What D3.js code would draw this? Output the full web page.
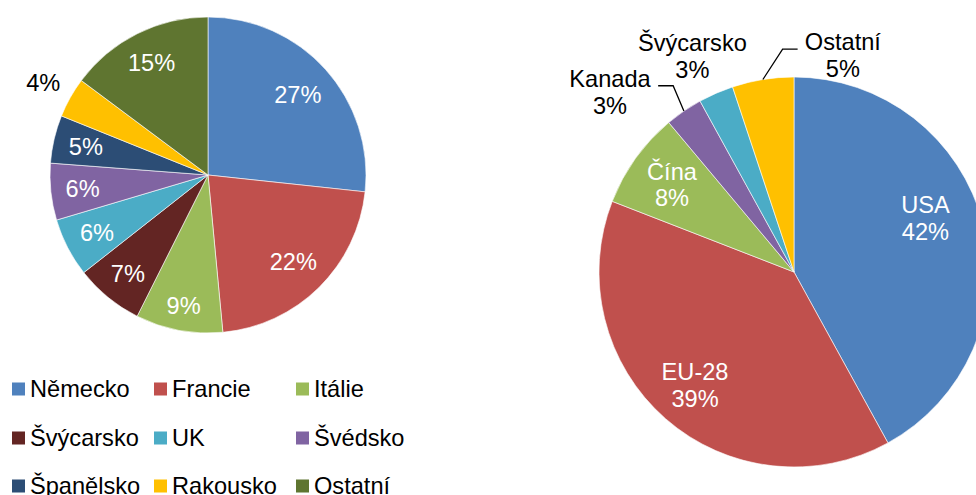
<!DOCTYPE html>
<html>
<head>
<meta charset="utf-8">
<style>
  body { margin: 0; background: #fff; }
  svg { display: block; font-family: "Liberation Sans", Arial, sans-serif; }
</style>
</head>
<body>
<svg id="chart" width="976" height="495"></svg>
<script src="https://cdn.jsdelivr.net/npm/d3@7/dist/d3.min.js"></script>
<script>
// left pie - countries
var leftNames = ["Německo", "Francie", "Itálie", "Švýcarsko", "UK", "Švédsko", "Španělsko", "Rakousko", "Ostatní"];
var leftValues = [26.7, 21.8, 8.9, 7.0, 6.0, 5.8, 4.9, 4.1, 14.8];
var leftLabels = ["27%", "22%", "9%", "7%", "6%", "6%", "5%", "4%", "15%"];
var leftColors = ["#4f81bd", "#c0504d", "#9bbb59", "#632523", "#4bacc6", "#8064a2", "#2c4d75", "#ffc000", "#5f7530"];

// right pie - regions
var rightNames = ["USA", "EU-28", "Čína", "Kanada", "Švýcarsko", "Ostatní"];
var rightValues = [42.0, 38.9, 8.0, 3.1, 2.9, 5.1];
var rightLabels = ["42%", "39%", "8%", "3%", "3%", "5%"];
var rightColors = ["#4f81bd", "#c0504d", "#9bbb59", "#8064a2", "#4bacc6", "#ffc000"];

var svg = d3.select("#chart");
var fontSize = 23.6;

var pie = d3.pie().sort(null).value(function(d) { return d.v; });

function makeRows(names, values, labels, colors) {
    return names.map(function(n, i) {
        return {name: n, v: values[i], label: labels[i], color: colors[i]};
    });
}

function polar(a, r) {
    return [Math.sin(a) * r, -Math.cos(a) * r];
}

// ---------- left pie ----------
var L = {cx: 208, cy: 175, r: 158};
var gl = svg.append("g").attr("transform", "translate(" + L.cx + "," + L.cy + ")");
var leftArcs = pie(makeRows(leftNames, leftValues, leftLabels, leftColors));
var arcL = d3.arc().innerRadius(0).outerRadius(L.r);

gl.selectAll("path").data(leftArcs).enter().append("path")
    .attr("d", arcL)
    .attr("fill", function(d) { return d.data.color; })
    .attr("stroke", "#fff").attr("stroke-width", 0.6);

// labels sit "inside end": pushed toward the rim by the text's own extent
gl.selectAll("text").data(leftArcs).enter().append("text")
    .attr("text-anchor", "middle")
    .attr("dy", "0.36em")
    .attr("font-size", fontSize)
    .attr("fill", function(d) { return d.data.name === "Rakousko" ? "#000" : "#fff"; })
    .text(function(d) { return d.data.label; })
    .attr("transform", function(d) {
        var mid = (d.startAngle + d.endAngle) / 2;
        var w = this.getComputedTextLength();
        var ext = Math.abs(Math.sin(mid)) * w / 2 + Math.abs(Math.cos(mid)) * 8.5;
        var rr = d.data.name === "Rakousko" ? L.r + 31 : L.r - ext - 14;
        var p = polar(mid, rr);
        return "translate(" + p[0] + "," + p[1] + ")";
    });

// legend
var legX = [12, 154, 296];
var legY = [389, 438, 486];
var leg = svg.append("g");
leftArcs.forEach(function(d, i) {
    var x = legX[i % 3], y = legY[Math.floor(i / 3)];
    leg.append("rect").attr("x", x).attr("y", y - 6.5).attr("width", 13).attr("height", 13)
        .attr("fill", d.data.color);
    leg.append("text").attr("x", x + 18).attr("y", y).attr("dy", "0.36em")
        .attr("font-size", fontSize).attr("fill", "#000").text(d.data.name);
});

// ---------- right pie ----------
var R = {cx: 794, cy: 272, r: 195};
var gr = svg.append("g").attr("transform", "translate(" + R.cx + "," + R.cy + ")");
var rightArcs = pie(makeRows(rightNames, rightValues, rightLabels, rightColors));
var arcR = d3.arc().innerRadius(0).outerRadius(R.r);

gr.selectAll("path").data(rightArcs).enter().append("path")
    .attr("d", arcR)
    .attr("fill", function(d) { return d.data.color; })
    .attr("stroke", "#fff").attr("stroke-width", 0.6);

// small slices get their label outside, moved aside like Excel does
var outside = {"Kanada": [-49, 17], "Švýcarsko": [-6, 3], "Ostatní": [87, 19]};
var inside = {"USA": [-14, -17]};   // kept clear of the cut right edge
var lineH = 27;

rightArcs.forEach(function(d) {
    var mid = (d.startAngle + d.endAngle) / 2;
    var out = outside[d.data.name];
    var p = polar(mid, out ? R.r + 44 : R.r * 0.77);
    var nudge = out || inside[d.data.name];
    if (nudge) { p = [p[0] + nudge[0], p[1] + nudge[1]]; }
    var t = gr.append("text")
        .attr("text-anchor", "middle")
        .attr("font-size", fontSize)
        .attr("fill", out ? "#000" : "#fff")
        .attr("transform", "translate(" + p[0] + "," + p[1] + ")");
    t.append("tspan").attr("x", 0).attr("y", -lineH / 2).attr("dy", "0.36em").text(d.data.name);
    t.append("tspan").attr("x", 0).attr("y", lineH / 2).attr("dy", "0.36em").text(d.data.label);

    // leader lines for labels pushed far from their slice
    if (out && Math.abs(out[0]) > 20) {
        var w = t.node().getBBox().width;
        var side = out[0] < 0 ? 1 : -1;
        var edgeX = p[0] + side * w / 2;
        var ly = p[1] - 6;
        var e = polar(mid, R.r);
        gr.append("path")
            .attr("d", d3.line()([e, [edgeX + side * 22, ly], [edgeX + side * 7, ly]]))
            .attr("fill", "none").attr("stroke", "#000").attr("stroke-width", 1.3);
    }
});
</script>
</body>
</html>
